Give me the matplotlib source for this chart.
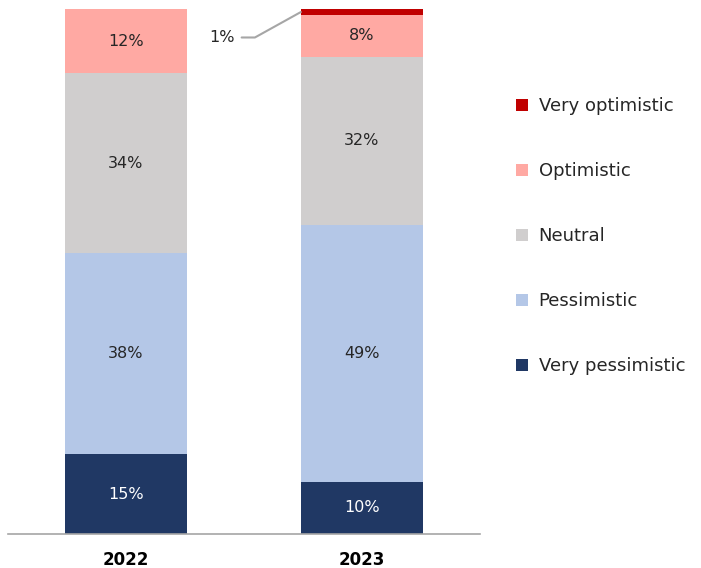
import matplotlib.pyplot as plt
import numpy as np

years = ['2022', '2023']
categories = ['Very pessimistic', 'Pessimistic', 'Neutral', 'Optimistic', 'Very optimistic']
very_pessimistic = [15.2, 9.9]
pessimistic = [38.3, 49.0]
neutral = [34.3, 32.0]
optimistic = [12.2, 8.0]
very_optimistic = [0.0, 1.1]
labels = [['15%', '10%'], ['38%', '49%'], ['34%', '32%'], ['12%', '8%'], ['', '']]

colors = ['#203864', '#B4C7E7', '#D0CECE', '#FFA9A3', '#C00000']
text_colors = ['white', '#262626', '#262626', '#262626', '#262626']

plt.rcParams['font.family'] = ['DejaVu Sans']

fig = plt.figure(figsize=(7.01, 5.68), dpi=100)
ax = fig.add_axes([0.0114, 0.0599, 0.673, 0.924])

series = [very_pessimistic, pessimistic, neutral, optimistic, very_optimistic]
x = np.arange(len(years))
bottom = np.zeros(len(years))
handles = []
for vals, col, tc, lab, name in zip(series, colors, text_colors, labels, categories):
    b = ax.bar(x, vals, 0.517, bottom=bottom, color=col, label=name)
    handles.append(b)
    for xi, v, bt, t in zip(x, vals, bottom, lab):
        if t:
            ax.text(xi, bt + v / 2, t, ha='center', va='center', color=tc, fontsize=11.5)
    bottom += np.array(vals)

# leader line for the small 1% segment
ax.annotate('1%', xy=(1 - 0.517 / 2, bottom[1] - very_optimistic[1] / 2),
            xytext=(0.407, 94.6), ha='center', va='center', fontsize=11.5, color='#262626',
            arrowprops=dict(arrowstyle='-', color='#A6A6A6', lw=1.5, shrinkA=3, shrinkB=0,
                            connectionstyle='angle,angleA=0,angleB=29,rad=0'))

ax.set_xlim(-0.5, 1.5)
ax.set_ylim(0, 100)
ax.set_xticks(x)
ax.set_xticklabels(years, fontsize=12, fontweight='bold')
ax.tick_params(axis='x', length=0, pad=12)
ax.set_yticks([])
for s in ['top', 'right', 'left']:
    ax.spines[s].set_visible(False)
ax.spines['bottom'].set_color('#A6A6A6')
ax.spines['bottom'].set_linewidth(1.2)

fig.legend(handles[::-1], categories[::-1], loc='center left', bbox_to_anchor=(0.713, 0.584),
           frameon=False, fontsize=13, labelspacing=2.6, handlelength=0.65, handleheight=0.65,
           handletextpad=0.6, labelcolor='#262626')

fig.savefig('out.png', dpi=100)
